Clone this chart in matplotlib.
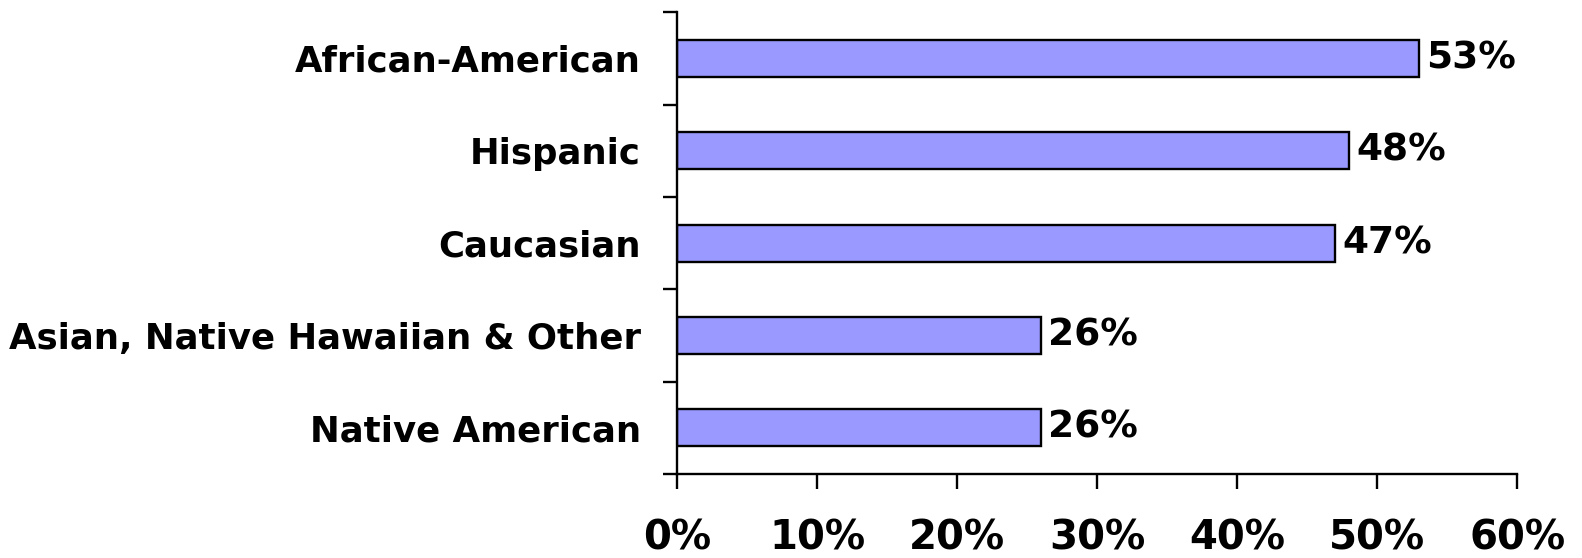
import matplotlib
matplotlib.use("Agg")
import matplotlib.pyplot as plt
from matplotlib.ticker import FixedLocator, FuncFormatter

categories = ["African-American", "Hispanic", "Caucasian",
              "Asian, Native Hawaiian & Other", "Native American"]
values = [53, 48, 47, 26, 26]
xticks = [0, 10, 20, 30, 40, 50, 60]

plt.rcParams["font.family"] = ["DejaVu Sans"]
plt.rcParams["font.weight"] = "bold"

fig = plt.figure(figsize=(15.82, 5.58), dpi=100)
ax = fig.add_axes([0.428, 0.1505, 0.531, 0.8275])

pos = list(range(len(categories)))[::-1]
ax.barh(pos, values, height=0.4, color="#9999FF", edgecolor="black", linewidth=1.7)
for p, v in zip(pos, values):
    ax.text(v + 0.5, p, f"{v}%", va="center", ha="left", fontsize=27, fontweight="bold")

ax.set_ylim(-0.5, len(categories) - 0.5)
ax.set_xlim(0, 60)
ax.set_yticks(pos)
ax.set_yticklabels(categories, fontsize=25.6, fontweight="bold")
ax.yaxis.set_minor_locator(FixedLocator([i - 0.5 for i in range(len(categories) + 1)]))
ax.tick_params(axis="y", which="major", length=0, pad=26)
ax.tick_params(axis="y", which="minor", length=10, width=1.7, direction="out")
ax.set_xticks(xticks)
ax.xaxis.set_major_formatter(FuncFormatter(lambda x, _: f"{x:.0f}%"))
ax.tick_params(axis="x", length=11, width=1.7, direction="out", pad=21, labelsize=29)
for lab in ax.get_xticklabels():
    lab.set_fontweight("bold")

for s in ["top", "right"]:
    ax.spines[s].set_visible(False)
for s in ["left", "bottom"]:
    ax.spines[s].set_linewidth(1.7)

fig.savefig("out.png", dpi=100)
